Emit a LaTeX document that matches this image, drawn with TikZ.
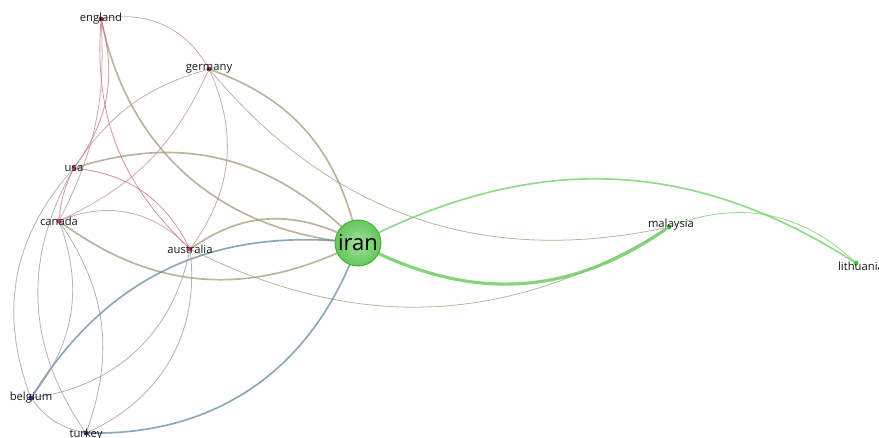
\documentclass[tikz,border=0pt]{standalone}
\usepackage{fontspec}
\setmainfont{Open Sans}
\pgfdeclarelayer{links}
\pgfsetlayers{links,main}

\definecolor{clred}{RGB}{196,58,78}
\definecolor{clgreen}{RGB}{72,190,62}
\definecolor{clblue}{RGB}{48,48,140}
\definecolor{lrr}{RGB}{188,140,148}
\definecolor{lrx}{RGB}{200,110,124}
\definecolor{lrg}{RGB}{160,156,122}
\definecolor{lgg}{RGB}{110,206,98}
\definecolor{lbg}{RGB}{100,140,156}
\definecolor{lbr}{RGB}{156,148,164}

\begin{document}
\begin{tikzpicture}[x=0.02cm,y=0.02cm,
    dot/.style={circle,fill=#1,inner sep=0pt,minimum size=2.8pt},
    lbl/.style={font=\fontsize{6.4}{7}\selectfont,inner sep=0pt,text=black!90},
    hub/.style={circle,inner sep=0pt,minimum size=0.92cm,draw=clgreen!90!black,
        line width=0.5pt,inner color=clgreen!50!white,outer color=clgreen!85,
        font=\fontsize{12.5}{13}\selectfont},
    link/.style={draw=#1,line width=0.45pt,opacity=0.75},
    heavy/.style={draw=#1,line width=0.95pt,opacity=0.75}]
    \useasboundingbox (0,0) rectangle (879,-437);

    % Nodes
    \node[dot=clred!70!black] (england) at (101,-19) {};
    \node[dot=clred!60!black] (germany) at (209,-69) {};
    \node[dot=clred] (usa) at (74,-168) {};
    \node[dot=clred] (canada) at (59,-221) {};
    \node[dot=clred] (australia) at (190,-249) {};
    \node[hub] (iran) at (358,-243) {iran};
    \node[dot=clgreen] (malaysia) at (669,-227) {};
    \node[dot=clgreen] (lithuania) at (856,-263) {};
    \node[dot=clblue] (belgium) at (31,-398) {};
    \node[dot=clblue] (turkey) at (86,-433) {};

    % Links
    \begin{pgfonlayer}{links}
    \path[heavy=lrg] (england) edge[bend right=35] (iran);
    \path[link=lrr] (england) edge[bend left=35] (germany);
    \path[link=lrr] (germany) edge[bend left=30] (australia);
    \path[link=lrx] (england) edge[bend right=25] (australia);
    \path[link=lrx] (england) edge[bend left=25] (usa);
    \path[link=lrr] (canada) edge[bend right=15] (england);
    \path[link=lrr] (germany) edge[bend right=20] (usa);
    \path[link=lrr] (germany) edge[bend left=20] (canada);
    \path[heavy=lrg] (germany) edge[bend left=27] (iran);
    \path[link=lrg] (germany) edge[bend right=31] (malaysia);
    \path[link=lgg] (malaysia) edge[bend left=32] (lithuania);
    \path[heavy=lrg] (usa) edge[bend left=30] (iran);
    \path[link=lrx] (usa) edge[bend left=28] (australia);
    \path[link=lrx] (usa) edge[bend right=10] (canada);
    \path[link=lrr] (canada) edge[bend left=34] (australia);
    \path[heavy=lrg] (canada) edge[bend right=30] (iran);
    \path[heavy=lrg] (australia) edge[bend left=29] (iran);
    \path[link=lrg] (australia) edge[bend right=29] (malaysia);
    \path[draw=lgg,line width=1.8pt,opacity=0.85] (iran) edge[bend right=30] (malaysia);
    \path[heavy=lgg] (iran) edge[bend left=29] (lithuania);
    \path[heavy=lbg] (belgium) edge[bend left=31] (iran);
    \path[heavy=lbg] (turkey) edge[bend right=34] (iran);
    \path[link=lbr] (belgium) edge[bend right=20] (turkey);
    \path[link=lbr] (belgium) edge[bend right=35] (australia);
    \path[link=lbr] (turkey) edge[bend right=36] (australia);
    \path[link=lbr] (usa) edge[bend right=31] (belgium);
    \path[link=lbr] (usa) edge[bend right=32] (turkey);
    \path[link=lbr] (canada) edge[bend left=29] (belgium);
    \path[link=lbr] (canada) edge[bend left=27] (turkey);
    \end{pgfonlayer}

    % Labels
    \node[lbl] (england-t) at (england) {england};
    \node[lbl] (germany-t) at (germany) {germany};
    \node[lbl] (usa-t) at (usa) {usa};
    \node[lbl] (canada-t) at (canada) {canada};
    \node[lbl] (australia-t) at (australia) {australia};
    \node[lbl] (malaysia-t) at (671,-225) {malaysia};
    \node[lbl] (lithuania-t) at (861,-266) {lithuania};
    \node[lbl] (belgium-t) at (belgium) {belgium};
    \node[lbl] (turkey-t) at (86,-435) {turkey};
\end{tikzpicture}
\end{document}
